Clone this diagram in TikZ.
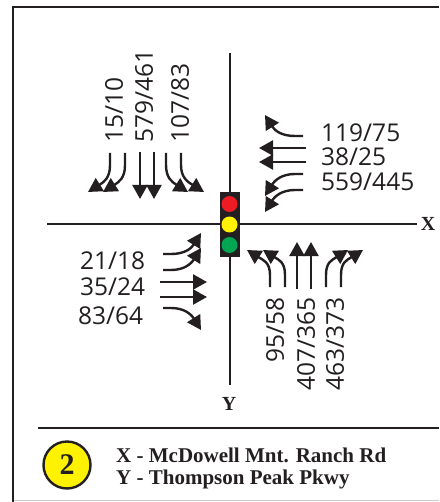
\documentclass[tikz,border=0pt]{standalone}
\usepackage{fontspec}
\setmainfont{Liberation Serif}
\newfontfamily\volfont{Open Sans}
\usetikzlibrary{arrows.meta}
\definecolor{ink}{HTML}{231F20}
\definecolor{lampred}{HTML}{ED1C24}
\definecolor{lampyellow}{HTML}{FFF200}
\definecolor{lampgreen}{HTML}{00A651}
\tikzset{
  lane/.style={draw=ink,line width=2.4pt,-{Triangle[length=14pt,width=15pt]}},
  road/.style={draw=ink,line width=2.5pt},
  vol/.style={inner sep=0pt,text=ink,font=\volfont\fontsize{24.5}{24.5}\selectfont},
  volup/.style={vol,rotate=90,anchor=west},
  voldown/.style={vol,rotate=90,anchor=east},
  roadlabel/.style={inner sep=0pt,text=ink,font=\bfseries\fontsize{20}{20}\selectfont},
  legend/.style={inner sep=0pt,anchor=west,text=ink,font=\bfseries\fontsize{21}{21}\selectfont},
  lamp/.style={circle,inner sep=0pt,minimum size=16pt}
}
\begin{document}
\begin{tikzpicture}[x=1pt,y=-1pt]
\useasboundingbox (0,0) rectangle (439,502);
% frame
\draw[draw=black!20,line width=0.8pt] (14,500.5) -- (439,500.5);
\draw[road,line width=2.6pt] (13,502) -- (13,7) -- (439,7);
% roads
\coordinate (xw) at (47,224); \coordinate (xe) at (417,224);
\coordinate (yn) at (230,53); \coordinate (ys) at (230,385);
\draw[road] (xw) -- (xe);
\draw[road] (yn) -- (ys);
% signal
\node[draw=none,fill=ink,minimum width=20pt,minimum height=65pt,inner sep=0pt] (signal) at (229.5,224.5) {};
\node[lamp,fill=lampred] (lampr) at (229.5,204) {};
\node[lamp,fill=lampyellow] (lampy) at (229.5,224.5) {};
\node[lamp,fill=lampgreen] (lampg) at (229.5,245) {};
% north approach
\draw[lane] (110,153) -- (110,165) .. controls (110,178) and (104,182) .. (88,192);
\draw[lane] (125,153) -- (125,165) .. controls (125,178) and (119,182) .. (103,192);
\draw[lane] (140,152) -- (140,199);
\draw[lane] (154,152) -- (154,199);
\draw[lane] (166,153) -- (166,165) .. controls (166,178) and (172,182) .. (188,192);
\draw[lane] (181,153) -- (181,165) .. controls (181,178) and (188,182) .. (204,192);
% east approach
\draw[lane] (303,136) -- (295,136) .. controls (282,136) and (275,131) .. (265,115);
\draw[lane] (306,148) -- (259,148);
\draw[lane] (306,162) -- (259,162);
\draw[lane] (303,174) -- (295,174) .. controls (282,174) and (275,180) .. (265,196);
\draw[lane] (303,190) -- (295,190) .. controls (282,190) and (275,196) .. (265,212);
% west approach
\draw[lane] (163,254) -- (171,254) .. controls (184,254) and (191,249) .. (201,233);
\draw[lane] (163,270) -- (171,270) .. controls (184,270) and (191,264) .. (201,248);
\draw[lane] (160,282) -- (207,282);
\draw[lane] (160,297) -- (207,297);
\draw[lane] (163,308) -- (171,308) .. controls (184,308) and (191,314) .. (201,330);
% south approach
\draw[lane] (270,287) -- (270,275) .. controls (270,262) and (263,260) .. (247,250);
\draw[lane] (285,287) -- (285,275) .. controls (285,262) and (279,260) .. (263,250);
\draw[lane] (297,289) -- (297,242);
\draw[lane] (311,289) -- (311,242);
\draw[lane] (326,287) -- (326,275) .. controls (326,262) and (332,260) .. (348,250);
\draw[lane] (341,287) -- (341,275) .. controls (341,262) and (347,260) .. (363,250);
% volumes
\node[volup] (v1) at (114,143) {15/10};
\node[volup] (v2) at (144,143) {579/461};
\node[volup] (v3) at (180,143) {107/83};
\node[vol,anchor=west] (v4) at (321,133) {119/75};
\node[vol,anchor=west] (v5) at (321,157) {38/25};
\node[vol,anchor=west] (v6) at (321,182) {559/445};
\node[vol,anchor=west] (v7) at (80,261) {21/18};
\node[vol,anchor=west] (v8) at (80,287) {35/24};
\node[vol,anchor=west] (v9) at (78,316) {83/64};
\node[voldown] (v10) at (275,297) {95/58};
\node[voldown] (v11) at (306,297) {407/365};
\node[voldown] (v12) at (335,297) {463/373};
% road labels
\node[roadlabel] (xlab) at (428,224) {X};
\node[roadlabel] (ylab) at (229,404) {Y};
% legend
\draw[road] (38,428) -- (439,428);
\node[circle,draw=ink,line width=2.4pt,fill=lampyellow,minimum size=47pt,inner sep=0pt,text=ink,font=\bfseries\fontsize{30}{30}\selectfont] (badge) at (67,465) {2};
\node[legend] (lx) at (116,455) {X - McDowell Mnt. Ranch Rd};
\node[legend] (ly) at (116,479) {Y - Thompson Peak Pkwy};
\end{tikzpicture}
\end{document}
